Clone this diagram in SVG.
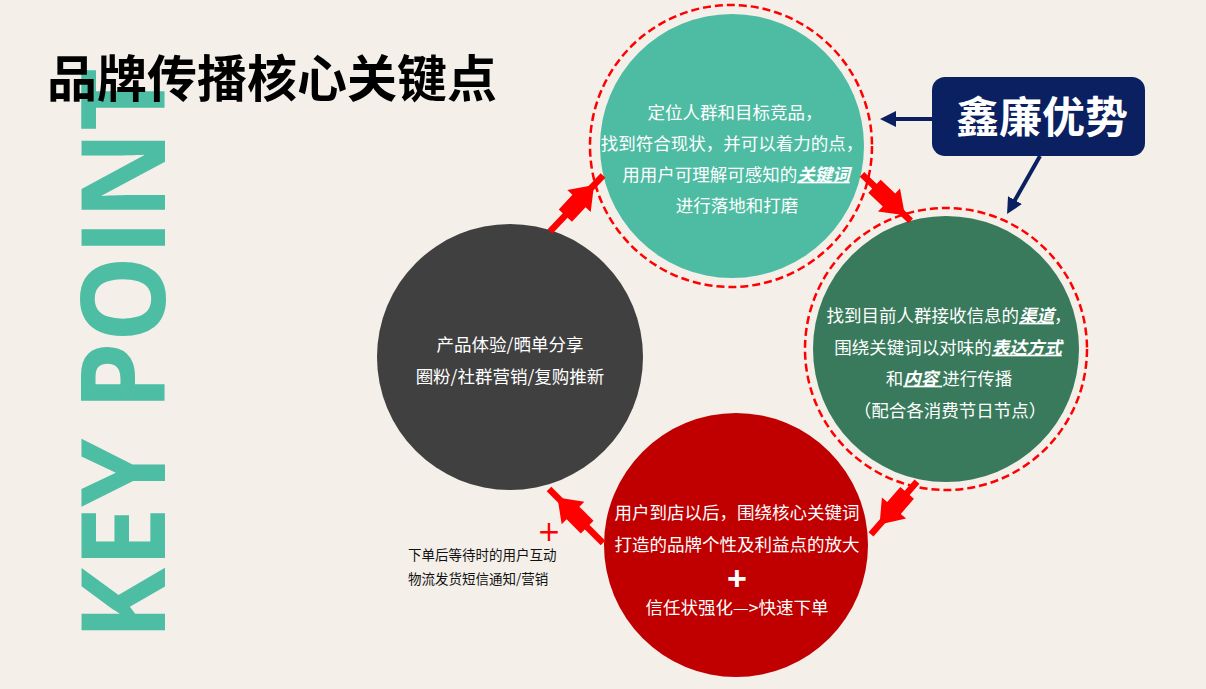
<svg xmlns="http://www.w3.org/2000/svg" xmlns:xlink="http://www.w3.org/1999/xlink" width="1206" height="689" viewBox="0 0 1206 689">
<style>
.cjk{font-family:"Noto Sans CJK SC","Noto Sans",sans-serif;}
.ct{font-family:"Noto Sans CJK SC","Noto Sans",sans-serif;font-size:17.5px;fill:#ffffff;text-anchor:middle;}
.kw{font-weight:700;font-style:italic;text-decoration:underline;}
.ring{fill:none;stroke:#ff0000;stroke-width:2.5;stroke-dasharray:8 4;}
.rl{stroke:#ff0000;stroke-width:6.5;fill:none;}
.nl{stroke:#0b2060;stroke-width:4;fill:none;}
.note{font-family:"Noto Sans CJK SC","Noto Sans",sans-serif;font-size:13.5px;fill:#111111;}
</style>
<defs>
<path id="ba" d="M-20,-9 L0,-9 L0,-16 L22,0 L0,16 L0,9 L-20,9 Z" fill="#ff0000"/>
<marker id="nh" viewBox="0 0 16 16" markerWidth="16" markerHeight="16" refX="6" refY="8" orient="auto" markerUnits="userSpaceOnUse">
<path d="M0,0 L16,8 L0,16 Z" fill="#0b2060"/>
</marker>
</defs>
<rect x="0" y="0" width="1206" height="689" fill="#f4efe9"/>

<g id="keypoint">
<text transform="translate(165,640) rotate(-90)" font-family="'Open Sans','Liberation Sans',sans-serif" font-weight="700" font-size="117" fill="#4dbda3" textLength="572" lengthAdjust="spacingAndGlyphs">KEY POINT</text>
</g>
<g id="title">
<text x="47" y="97" class="cjk" font-size="50" font-weight="700" fill="#000000">品牌传播核心关键点</text>
</g>

<g id="node-gray">
<circle cx="510" cy="357" r="133" fill="#404040"/>
<text class="ct" x="510" y="351">产品体验/晒单分享</text>
<text class="ct" x="510" y="383">圈粉/社群营销/复购推新</text>
</g>

<g id="node-teal">
<circle cx="731" cy="146" r="141" class="ring"/>
<circle cx="732" cy="146" r="132" fill="#4dbca2"/>
<text class="ct" x="735" y="118.6">定位人群和目标竞品，</text>
<text class="ct" x="732" y="149.6">找到符合现状，并可以着力的点，</text>
<text class="ct" x="736" y="180.6">用用户可理解可感知的<tspan class="kw">关键词</tspan></text>
<text class="ct" x="737" y="211.6">进行落地和打磨</text>
</g>

<g id="node-green">
<circle cx="946" cy="349" r="141" class="ring"/>
<circle cx="946" cy="349" r="133" fill="#387a5b"/>
<text class="ct" x="949" y="321.6">找到目前人群接收信息的<tspan class="kw">渠道</tspan>，</text>
<text class="ct" x="948" y="353.6">围绕关键词以对味的<tspan class="kw">表达方式</tspan></text>
<text class="ct" x="949" y="384.6">和<tspan class="kw">内容 </tspan>进行传播</text>
<text class="ct" x="950" y="416.6">（配合各消费节日节点）</text>
</g>

<g id="node-red">
<circle cx="736" cy="545" r="132" fill="#c00000"/>
<text class="ct" x="737" y="518.6">用户到店以后，围绕核心关键词</text>
<text class="ct" x="737" y="550.6">打造的品牌个性及利益点的放大</text>
<text x="737" y="590" font-family="'Liberation Sans',sans-serif" font-weight="700" font-size="34" fill="#ffffff" text-anchor="middle">+</text>
<text class="ct" x="737" y="613.6">信任状强化—&gt;快速下单</text>
</g>

<g id="node-note">
<text x="549" y="541" font-family="'DejaVu Sans',sans-serif" font-size="28" fill="#ff0000" text-anchor="middle">+</text>
<text class="note" x="408" y="560">下单后等待时的用户互动</text>
<text class="note" x="408" y="584">物流发货短信通知/营销</text>
</g>

<g id="node-advantage">
<rect x="932" y="77" width="213" height="79" rx="13" ry="13" fill="#0b2060"/>
<text x="1042" y="133" class="cjk" font-size="43" font-weight="700" fill="#ffffff" text-anchor="middle">鑫廉优势</text>
</g>

<g id="connectors">
<line class="rl" x1="550" y1="231.5" x2="603" y2="175.6"/>
<use xlink:href="#ba" transform="translate(579,201) rotate(-47)"/>
<line class="rl" x1="862" y1="174.4" x2="910.7" y2="220.8"/>
<use xlink:href="#ba" transform="translate(889,200) rotate(43.5)"/>
<line class="rl" x1="917" y1="481.6" x2="871" y2="534.4"/>
<use xlink:href="#ba" transform="translate(894,508) rotate(131)"/>
<line class="rl" x1="603" y1="543" x2="549" y2="489"/>
<use xlink:href="#ba" transform="translate(573,513) rotate(-135)"/>
<line class="nl" x1="932" y1="119" x2="890" y2="119" marker-end="url(#nh)"/>
<line class="nl" x1="1040" y1="156" x2="1012" y2="205.3" marker-end="url(#nh)"/>
</g>
</svg>
